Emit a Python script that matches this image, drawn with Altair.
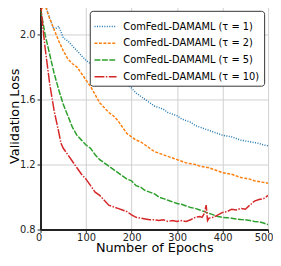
import altair as alt
import pandas as pd

series_names = [
    "ComFedL-DAMAML (τ = 1)",
    "ComFedL-DAMAML (τ = 2)",
    "ComFedL-DAMAML (τ = 5)",
    "ComFedL-DAMAML (τ = 10)",
]
colors = ["#1f77b4", "#ff7f0e", "#2ca02c", "#d62728"]
dashes = [[1, 1.5], [3, 1.5], [6, 1.5], [10, 1.5, 1.5, 1.5]]

x_ticks = [0, 100, 200, 300, 400, 500]
y_ticks = [0.8, 1.2, 1.6, 2.0]

epochs_1 = list(range(0, 501, 10))
loss_1 = [2.20, 2.19, 2.10, 2.03, 2.05, 1.98, 1.96, 1.93, 1.90, 1.87,
          1.84, 1.82, 1.80, 1.79, 1.77, 1.76, 1.74, 1.73, 1.71, 1.69,
          1.67, 1.64, 1.62, 1.60, 1.58, 1.56, 1.55, 1.54, 1.52, 1.51,
          1.50, 1.48, 1.47, 1.46, 1.44, 1.43, 1.42, 1.41, 1.40, 1.39,
          1.38, 1.375, 1.37, 1.36, 1.35, 1.345, 1.34, 1.335, 1.33, 1.32,
          1.315]

epochs_2 = list(range(0, 501, 10))
loss_2 = [2.15, 2.18, 2.10, 2.03, 1.96, 1.90, 1.85, 1.82, 1.80, 1.76,
          1.72, 1.68, 1.63, 1.58, 1.55, 1.52, 1.50, 1.47, 1.43, 1.39,
          1.37, 1.35, 1.34, 1.32, 1.30, 1.28, 1.27, 1.26, 1.25, 1.24,
          1.23, 1.22, 1.21, 1.205, 1.20, 1.19, 1.185, 1.18, 1.17, 1.16,
          1.15, 1.145, 1.14, 1.13, 1.12, 1.115, 1.11, 1.10, 1.095, 1.09,
          1.085]

epochs_5 = [0, 5] + list(range(10, 501, 10))
loss_5 = [2.15, 2.08, 2.00, 1.88, 1.76, 1.66, 1.57, 1.50, 1.43, 1.38,
          1.35, 1.32, 1.30, 1.26, 1.23, 1.21, 1.19, 1.17, 1.15, 1.13,
          1.11, 1.10, 1.07, 1.06, 1.04, 1.03, 1.02, 1.00, 0.99, 0.98,
          0.97, 0.96, 0.955, 0.945, 0.935, 0.93, 0.92, 0.91, 0.90, 0.89,
          0.88, 0.875, 0.873, 0.87, 0.865, 0.862, 0.86, 0.855, 0.85, 0.848,
          0.84, 0.83]

epochs_10 = [0, 5, 10, 20, 30, 40, 45, 50, 60, 70, 80, 90, 100, 110, 120,
             130, 140, 150, 160, 170, 180, 190, 200, 210, 220, 230, 240,
             250, 260, 270, 280, 290, 300, 310, 320, 330, 340, 350, 355,
             360, 364, 367, 370, 380, 390, 400, 410, 420, 430, 440, 450,
             460, 470, 480, 490, 500]
loss_10 = [2.20, 2.05, 1.92, 1.70, 1.53, 1.40, 1.33, 1.30, 1.26, 1.22,
           1.18, 1.14, 1.11, 1.07, 1.03, 1.01, 0.98, 0.95, 0.94, 0.93,
           0.92, 0.91, 0.89, 0.875, 0.87, 0.865, 0.86, 0.86, 0.855, 0.86,
           0.85, 0.855, 0.85, 0.855, 0.85, 0.86, 0.875, 0.88, 0.875,
           0.90, 0.95, 0.855, 0.87, 0.875, 0.89, 0.905, 0.91, 0.925, 0.92,
           0.93, 0.925, 0.95, 0.975, 0.985, 0.99, 1.01]

rows = []
for name, ep, ls in zip(series_names,
                        [epochs_1, epochs_2, epochs_5, epochs_10],
                        [loss_1, loss_2, loss_5, loss_10]):
    for e, l in zip(ep, ls):
        rows.append({"series": name, "epoch": e, "loss": l})
df = pd.DataFrame(rows)

legend = alt.Legend(
    title=None, orient="none", legendX=50, legendY=9,
    symbolType="stroke", symbolSize=500, symbolStrokeWidth=1.5,
    labelFont="DejaVu Sans", labelFontSize=10, labelColor="black",
    labelOffset=6, rowPadding=-4, padding=4,
    strokeColor="#333333", fillColor="white", cornerRadius=3,
    labelLimit=300,
)

chart = alt.Chart(df).mark_line(strokeWidth=1.5, clip=True).encode(
    x=alt.X("epoch:Q", scale=alt.Scale(domain=[0, 500], nice=False),
            axis=alt.Axis(values=x_ticks, title="Number of Epochs",
                          titleY=22.5, titleBaseline="alphabetic",
                          tickSize=3, labelPadding=0,
                          labelFlush=True, labelFlushOffset=5)),
    y=alt.Y("loss:Q", scale=alt.Scale(domain=[0.8, 2.2], nice=False, zero=False),
            axis=alt.Axis(values=y_ticks, format=".1f", title="Validation Loss",
                          titleX=-22.5, titleBaseline="alphabetic",
                          tickSize=3.5, labelPadding=2)),
    color=alt.Color("series:N", scale=alt.Scale(domain=series_names, range=colors),
                    legend=legend, sort=series_names),
    strokeDash=alt.StrokeDash("series:N", scale=alt.Scale(domain=series_names, range=dashes),
                              legend=legend, sort=series_names),
    detail="series:N",
).properties(
    width=231, height=231,
    autosize=alt.AutoSizeParams(type="none"),
    padding={"left": 33, "top": -8, "right": 5, "bottom": 25},
).configure_view(stroke=None).configure_axis(
    labelFont="DejaVu Sans", labelFontSize=10, labelColor="#222222",
    titleFont="DejaVu Sans", titleFontSize=13, titleFontWeight="normal", titleColor="black",
    domainColor="#222222", domainWidth=2, tickColor="#222222",
    gridColor="#d0d0d0", gridWidth=1,
)

chart.save("out.html", embed_options={"renderer": "svg", "actions": False})
